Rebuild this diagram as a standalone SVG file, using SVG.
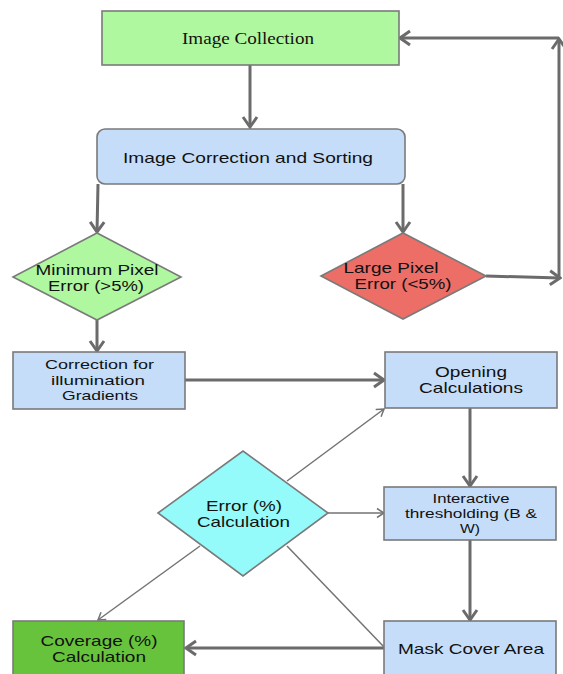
<svg xmlns="http://www.w3.org/2000/svg" width="563" height="674" viewBox="0 0 563 674">
<defs>
<style>
.node{stroke:#7a7a7a;stroke-width:1.6}
.green{fill:#b0f8a0}
.blue{fill:#c5ddf8}
.red{fill:#ec6e66}
.cyan{fill:#94fbfa}
.dgreen{fill:#68c33c}
text{font-family:"Liberation Sans",Arial,sans-serif;font-size:15px;fill:#111;text-anchor:middle}
.serif{font-family:"Liberation Serif","Times New Roman",serif;font-size:16px}
.sm{font-size:13.5px}
.xs{font-size:12.5px}
.thick{stroke:#6b6b6b;stroke-width:3;fill:none}
.thin{stroke:#737373;stroke-width:1.5;fill:none}
</style>
<marker id="ah" markerUnits="userSpaceOnUse" viewBox="-12 -9 14 18" markerWidth="14" markerHeight="18" refX="0" refY="0" orient="auto">
<path d="M-10,-7 L0,0 L-10,7" fill="none" stroke="#6b6b6b" stroke-width="3"/>
</marker>
<marker id="ahs" markerUnits="userSpaceOnUse" viewBox="-9 -6 10 12" markerWidth="10" markerHeight="12" refX="0" refY="0" orient="auto">
<path d="M-7,-4.5 L0,0 L-7,4.5" fill="none" stroke="#737373" stroke-width="1.5"/>
</marker>
</defs>
<rect width="563" height="674" fill="#ffffff"/>

<g id="connectors">
<line class="thick" x1="250" y1="65" x2="250" y2="127" marker-end="url(#ah)"/>
<line class="thick" x1="98" y1="184" x2="97" y2="232" marker-end="url(#ah)"/>
<line class="thick" x1="403" y1="184" x2="403" y2="232" marker-end="url(#ah)"/>
<line class="thick" x1="486" y1="276" x2="560" y2="278" marker-end="url(#ah)"/>
<line class="thick" x1="559" y1="278" x2="559" y2="39" marker-end="url(#ah)"/>
<line class="thick" x1="559" y1="38" x2="400" y2="38" marker-end="url(#ah)"/>
<line class="thick" x1="97" y1="320" x2="97" y2="351" marker-end="url(#ah)"/>
<line class="thick" x1="185" y1="380" x2="384" y2="380" marker-end="url(#ah)"/>
<line class="thick" x1="470" y1="408" x2="470" y2="486" marker-end="url(#ah)"/>
<line class="thick" x1="470" y1="540" x2="470" y2="620" marker-end="url(#ah)"/>
<line class="thick" x1="385" y1="648" x2="186" y2="648" marker-end="url(#ah)"/>
<line class="thin" x1="287" y1="481" x2="384" y2="409" marker-end="url(#ahs)"/>
<line class="thin" x1="328" y1="513" x2="384" y2="513" marker-end="url(#ahs)"/>
<line class="thin" x1="200" y1="546" x2="98" y2="620" marker-end="url(#ahs)"/>
<line class="thin" x1="287" y1="546" x2="385" y2="648"/>
</g>

<g id="image-collection">
<rect class="node green" x="102" y="11" width="297" height="54"/>
<text class="serif" x="248" y="44" textLength="132" lengthAdjust="spacingAndGlyphs">Image Collection</text>
</g>

<g id="image-correction">
<rect class="node blue" x="97" y="129" width="308" height="55" rx="8"/>
<text x="248" y="163" textLength="250" lengthAdjust="spacingAndGlyphs">Image Correction and Sorting</text>
</g>

<g id="minimum-pixel">
<polygon class="node green" points="13,277 97,233 181,277 97,320"/>
<text x="97" y="275" textLength="123" lengthAdjust="spacingAndGlyphs">Minimum Pixel</text>
<text x="96" y="291" textLength="96" lengthAdjust="spacingAndGlyphs">Error (&gt;5%)</text>
</g>

<g id="large-pixel">
<polygon class="node red" points="321,276 403,233 486,276 403,319"/>
<text x="391" y="273" textLength="95" lengthAdjust="spacingAndGlyphs">Large Pixel</text>
<text x="403" y="289" textLength="97" lengthAdjust="spacingAndGlyphs">Error (&lt;5%)</text>
</g>

<g id="correction-illumination">
<rect class="node blue" x="13" y="352" width="172" height="57"/>
<text class="sm" x="99.5" y="369" textLength="109" lengthAdjust="spacingAndGlyphs">Correction for</text>
<text class="sm" x="98" y="385" textLength="94" lengthAdjust="spacingAndGlyphs">illumination</text>
<text class="sm" x="100" y="400" textLength="76" lengthAdjust="spacingAndGlyphs">Gradients</text>
</g>

<g id="opening">
<rect class="node blue" x="385" y="352" width="172" height="56"/>
<text x="471" y="377" textLength="72" lengthAdjust="spacingAndGlyphs">Opening</text>
<text x="471" y="393" textLength="104" lengthAdjust="spacingAndGlyphs">Calculations</text>
</g>

<g id="error-calc">
<polygon class="node cyan" points="158,513 243,451 328,513 243,576"/>
<text x="244" y="511" textLength="76" lengthAdjust="spacingAndGlyphs">Error (%)</text>
<text x="243.5" y="527" textLength="93" lengthAdjust="spacingAndGlyphs">Calculation</text>
</g>

<g id="thresholding">
<rect class="node blue" x="384" y="487" width="172" height="53"/>
<text class="xs" x="471" y="503" textLength="77" lengthAdjust="spacingAndGlyphs">Interactive</text>
<text class="xs" x="471" y="518" textLength="132" lengthAdjust="spacingAndGlyphs">thresholding (B &amp;</text>
<text class="xs" x="470" y="533" textLength="20" lengthAdjust="spacingAndGlyphs">W)</text>
</g>

<g id="mask-cover">
<rect class="node blue" x="384" y="621" width="172" height="60"/>
<text x="471" y="654" textLength="146" lengthAdjust="spacingAndGlyphs">Mask Cover Area</text>
</g>

<g id="coverage">
<rect class="node dgreen" x="13" y="621" width="171" height="60"/>
<text x="99" y="646" textLength="117" lengthAdjust="spacingAndGlyphs">Coverage (%)</text>
<text x="99" y="662" textLength="94" lengthAdjust="spacingAndGlyphs">Calculation</text>
</g>
</svg>
